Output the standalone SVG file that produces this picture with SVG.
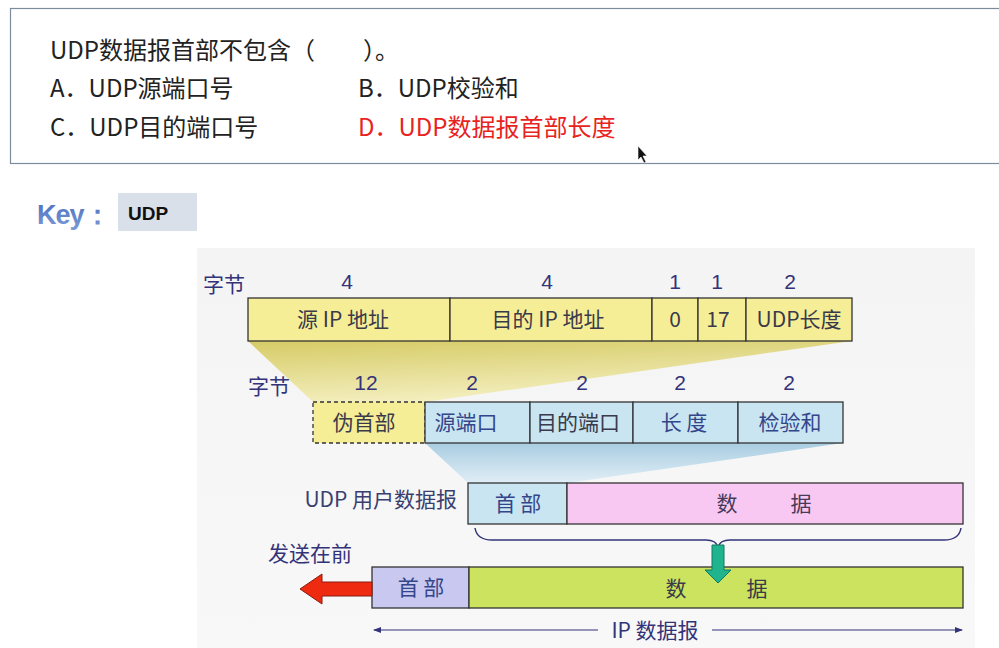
<svg xmlns="http://www.w3.org/2000/svg" width="999" height="648" viewBox="0 0 999 648">
<style>
.q{font-family:"Noto Sans CJK SC","Noto Sans",sans-serif;font-size:24px;fill:#222}
.lab{font-family:"Noto Sans CJK SC","Liberation Sans",sans-serif;font-size:21px;fill:#33337a}
.num{font-family:"Liberation Sans","Noto Sans CJK SC",sans-serif;font-size:21px;fill:#33337a;text-anchor:middle}
.bt{font-family:"Noto Sans CJK SC","Liberation Sans",sans-serif;font-size:21px;fill:#3a3a4a;text-anchor:middle}
.bb{font-family:"Noto Sans CJK SC","Liberation Sans",sans-serif;font-size:21px;fill:#34468a;text-anchor:middle}
.box{stroke:#333;stroke-width:1.3}
.y{fill:#f6ee96}
.b{fill:#c9e5f2}
</style>
<defs>
<linearGradient id="gy" x1="0" y1="0" x2="0.3" y2="1">
<stop offset="0" stop-color="#d6cb66"/>
<stop offset="1" stop-color="#f4efc0"/>
</linearGradient>
<linearGradient id="gb" x1="0" y1="0" x2="0" y2="1">
<stop offset="0" stop-color="#a9cde2"/>
<stop offset="1" stop-color="#e0eef6"/>
</linearGradient>
<linearGradient id="gp" x1="0" y1="0" x2="0" y2="1">
<stop offset="0" stop-color="#f4f4f4"/>
<stop offset="1" stop-color="#f8f8f8"/>
</linearGradient>
<linearGradient id="gk" x1="0" y1="0" x2="0" y2="1">
<stop offset="0" stop-color="#4a6fbf"/>
<stop offset="1" stop-color="#7d9ad6"/>
</linearGradient>
<marker id="ah" markerWidth="8" markerHeight="6" refX="7" refY="3" orient="auto" markerUnits="userSpaceOnUse">
<path d="M0,0 L8,3 L0,6 z" fill="#33337a"/>
</marker>
</defs>
<rect width="999" height="648" fill="#fff"/>
<g id="question">
<rect x="10.5" y="8.5" width="995" height="155" fill="#fff" stroke="#7d8c9c" stroke-width="1.2"/>
<text class="q" x="50" y="59">UDP数据报首部不包含（　　）。</text>
<text class="q" x="50" y="97">A．UDP源端口号</text>
<text class="q" x="358" y="97">B．UDP校验和</text>
<text class="q" x="50" y="136">C．UDP目的端口号</text>
<text class="q" x="358" y="136" style="fill:#e8231e">D．UDP数据报首部长度</text>
<path d="M638,146 L638,160 L641,157 L644,163 L646,162 L643,156 L647,156 z" fill="#111" stroke="#fff" stroke-width="0.6"/>
</g>
<g id="key">
<text x="37" y="224" font-family="Liberation Sans,sans-serif" font-size="27" font-weight="bold" letter-spacing="-1" fill="url(#gk)">Key：</text>
<rect x="118" y="193" width="79" height="38" fill="#d9e0e9"/>
<text x="128" y="220" font-family="Liberation Sans,sans-serif" font-size="19" font-weight="bold" fill="#111">UDP</text>
</g>
<rect x="197" y="248" width="778" height="400" fill="url(#gp)"/>
<g id="bands">
<polygon points="248,341 852,341 425,402 313,402" fill="url(#gy)"/>
<polygon points="425,443 843,443 567,483 468,483" fill="url(#gb)"/>
</g>
<g id="row1">
<text class="lab" x="203" y="292">字节</text>
<text class="num" x="347" y="289">4</text>
<text class="num" x="547" y="289">4</text>
<text class="num" x="675" y="289">1</text>
<text class="num" x="717" y="289">1</text>
<text class="num" x="790" y="289">2</text>
<rect class="box y" x="248" y="298" width="202" height="43"/>
<rect class="box y" x="450" y="298" width="202" height="43"/>
<rect class="box y" x="652" y="298" width="46" height="43"/>
<rect class="box y" x="698" y="298" width="48" height="43"/>
<rect class="box y" x="746" y="298" width="106" height="43"/>
<text class="bt" x="343" y="327">源 IP 地址</text>
<text class="bt" x="548" y="327">目的 IP 地址</text>
<text class="bt" x="675" y="327">0</text>
<text class="bt" x="718" y="327">17</text>
<text class="bt" x="799" y="327">UDP长度</text>
</g>
<g id="row2">
<text class="lab" x="248" y="394">字节</text>
<text class="num" x="366" y="390">12</text>
<text class="num" x="472" y="390">2</text>
<text class="num" x="582" y="390">2</text>
<text class="num" x="680" y="390">2</text>
<text class="num" x="789" y="390">2</text>
<rect x="313" y="402" width="112" height="41" fill="#f6ee96" stroke="#333" stroke-width="1.3" stroke-dasharray="4,3"/>
<rect class="box b" x="425" y="402" width="105" height="41"/>
<rect class="box b" x="530" y="402" width="103" height="41"/>
<rect class="box b" x="633" y="402" width="105" height="41"/>
<rect class="box b" x="738" y="402" width="105" height="41"/>
<text class="bt" x="364" y="430">伪首部</text>
<text class="bb" x="466" y="430">源端口</text>
<text class="bt" x="578" y="430">目的端口</text>
<text class="bb" x="684" y="430">长 度</text>
<text class="bb" x="790" y="430">检验和</text>
</g>
<g id="row3">
<text class="lab" x="457" y="507" text-anchor="end" style="fill:#3a3f70">UDP 用户数据报</text>
<rect class="box b" x="468" y="483" width="99" height="41"/>
<rect class="box" x="567" y="483" width="396" height="41" fill="#f8c8f2"/>
<text class="bb" x="518" y="511">首 部</text>
<text class="bt" x="727" y="511" style="fill:#4a3a5a">数</text>
<text class="bt" x="801" y="511" style="fill:#4a3a5a">据</text>
</g>
<g id="row4">
<text class="lab" x="268" y="561">发送在前</text>
<rect class="box" x="372" y="567" width="97" height="41" fill="#c8c8f0"/>
<rect class="box" x="469" y="567" width="494" height="41" fill="#cbe35e"/>
<text class="bb" x="421" y="595">首 部</text>
<text class="bt" x="676" y="596">数</text>
<text class="bt" x="757" y="596">据</text>
<text class="bt" x="655" y="638" style="fill:#33337a">IP 数据报</text>
</g>
<g id="connectors">
<path d="M475,528 Q477,540 492,540 L706,540 Q716,540 718,547 Q720,540 730,540 L944,540 Q959,540 961,528" fill="none" stroke="#33337a" stroke-width="1.5"/>
<path d="M712,545 L724,545 L724,570 L731,570 L718,583 L705,570 L712,570 z" fill="#1fb48e" stroke="#117a60" stroke-width="1"/>
<path d="M372,582 L322,582 L322,574 L300,589 L322,604 L322,596 L372,596 z" fill="#ee2a10" stroke="#8a1a10" stroke-width="1"/>
<line x1="598" y1="630" x2="374" y2="630" stroke="#33337a" stroke-width="1.2" marker-end="url(#ah)"/>
<line x1="712" y1="630" x2="962" y2="630" stroke="#33337a" stroke-width="1.2" marker-end="url(#ah)"/>
</g>
</svg>
